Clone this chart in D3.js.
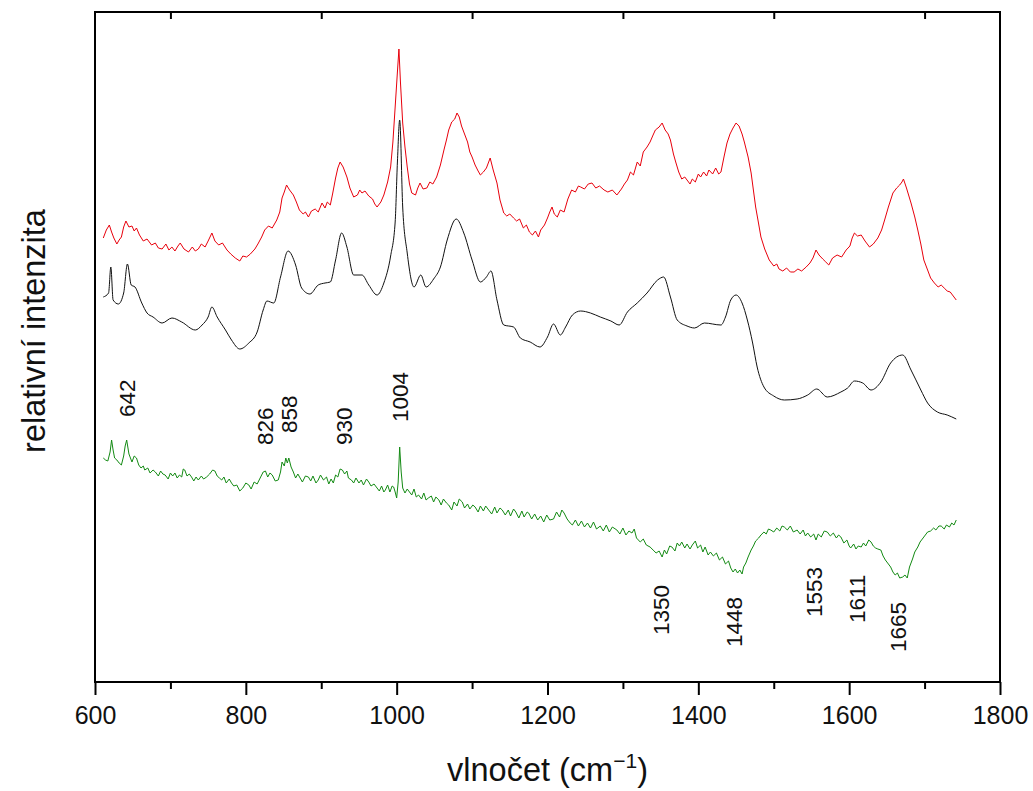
<!DOCTYPE html>
<html>
<head>
<meta charset="utf-8">
<script src="https://cdn.jsdelivr.net/npm/d3@7"></script>
<style>
  body { margin: 0; background: #fff; }
  svg { display: block; font-family: Arial, "Liberation Sans", sans-serif; }
</style>
</head>
<body>
<div id="chart"></div>
<script>
// wavenumber (cm-1), relative intensity (arbitrary units)
var blackSpec = [
  [611, 385], [618, 389], [621, 415], [624, 382], [631, 378], [638, 389], [643, 418], [648, 397],
  [653, 395], [662, 379], [669, 369], [677, 365], [689, 359], [702, 364], [715, 360], [733, 352],
  [742, 357], [750, 365], [755, 375], [762, 365], [773, 352], [781, 342], [792, 333], [804, 339],
  [815, 350], [823, 372], [828, 381], [837, 379], [846, 405], [856, 431], [866, 417], [874, 394],
  [885, 388], [896, 397], [905, 399], [912, 400], [919, 422], [927, 449], [934, 435], [943, 407],
  [954, 407], [963, 397], [974, 387], [983, 399], [992, 426], [998, 460], [1001, 520], [1004, 562],
  [1008, 475], [1014, 429], [1023, 395], [1032, 407], [1039, 395], [1049, 403], [1058, 415], [1067, 442],
  [1079, 463], [1089, 449], [1100, 422], [1111, 400], [1119, 405], [1125, 411], [1133, 382], [1142, 357],
  [1155, 355], [1164, 344], [1177, 340], [1190, 335], [1200, 345], [1208, 358], [1217, 347], [1224, 355],
  [1233, 367], [1244, 371], [1257, 369], [1270, 365], [1284, 361], [1295, 357], [1306, 370], [1319, 379],
  [1332, 389], [1346, 402], [1354, 405], [1363, 385], [1372, 362], [1385, 356], [1395, 354], [1408, 359],
  [1430, 357], [1436, 365], [1443, 382], [1450, 387], [1458, 379], [1465, 362], [1472, 339], [1478, 315],
  [1487, 295], [1500, 286], [1514, 282], [1531, 283], [1545, 287], [1557, 293], [1571, 285], [1589, 290],
  [1598, 294], [1607, 301], [1618, 299], [1629, 292], [1642, 300], [1655, 319], [1671, 327], [1682, 312],
  [1695, 292], [1704, 279], [1717, 270], [1730, 267], [1742, 263]
]

var redSpec = [
  [611, 444], [615, 452], [619, 457], [622, 450], [625, 444], [629, 438], [632, 442], [635, 445],
  [638, 455], [641, 461], [645, 455], [649, 456], [652, 451], [655, 454], [659, 447], [664, 441],
  [669, 443], [675, 437], [680, 439], [684, 434], [689, 433], [694, 438], [698, 432], [702, 435],
  [706, 431], [710, 436], [713, 439], [718, 433], [724, 430], [729, 435], [733, 431], [737, 433],
  [741, 438], [746, 435], [750, 441], [755, 449], [759, 441], [764, 437], [769, 439], [775, 432],
  [780, 428], [786, 424], [792, 421], [796, 426], [801, 425], [806, 428], [812, 433], [816, 438],
  [821, 445], [825, 452], [830, 456], [835, 454], [841, 462], [845, 470], [848, 484], [851, 490],
  [854, 497], [858, 492], [863, 487], [867, 480], [871, 472], [876, 468], [879, 470], [883, 465],
  [887, 471], [892, 473], [896, 470], [901, 479], [905, 474], [908, 480], [912, 477], [915, 488],
  [919, 504], [922, 514], [925, 520], [929, 515], [934, 505], [938, 494], [943, 485], [948, 487],
  [951, 492], [954, 489], [958, 491], [963, 486], [968, 483], [971, 478], [974, 475], [979, 480],
  [983, 487], [988, 500], [992, 515], [995, 540], [998, 575], [1001, 610], [1003, 633], [1005, 600],
  [1008, 559], [1011, 535], [1014, 515], [1017, 498], [1020, 489], [1025, 487], [1028, 494], [1031, 499],
  [1035, 493], [1040, 494], [1044, 500], [1048, 498], [1053, 505], [1058, 517], [1063, 533], [1066, 542],
  [1069, 552], [1073, 560], [1077, 563], [1080, 569], [1083, 565], [1086, 556], [1089, 550], [1094, 540],
  [1097, 530], [1100, 525], [1104, 517], [1108, 511], [1111, 507], [1115, 510], [1119, 514], [1124, 524],
  [1128, 512], [1133, 499], [1137, 482], [1142, 469], [1146, 466], [1150, 468], [1155, 464], [1159, 461],
  [1163, 463], [1168, 454], [1172, 457], [1176, 450], [1180, 447], [1184, 451], [1188, 445], [1191, 452],
  [1196, 457], [1200, 464], [1203, 470], [1206, 475], [1209, 468], [1213, 465], [1217, 472], [1222, 470],
  [1227, 483], [1232, 492], [1237, 490], [1241, 496], [1244, 495], [1249, 493], [1254, 498], [1259, 499],
  [1264, 494], [1269, 496], [1275, 492], [1280, 490], [1286, 492], [1292, 487], [1298, 493], [1302, 498],
  [1306, 502], [1310, 510], [1314, 507], [1319, 520], [1323, 516], [1327, 530], [1332, 535], [1336, 540],
  [1340, 547], [1343, 552], [1348, 555], [1352, 559], [1356, 552], [1360, 548], [1363, 542], [1367, 528],
  [1370, 520], [1374, 510], [1378, 503], [1382, 505], [1385, 502], [1389, 498], [1392, 503], [1396, 500],
  [1400, 508], [1403, 505], [1407, 510], [1411, 506], [1414, 512], [1419, 508], [1423, 514], [1427, 508],
  [1430, 510], [1434, 525], [1438, 539], [1442, 548], [1446, 554], [1450, 559], [1454, 556], [1458, 548],
  [1461, 540], [1466, 525], [1470, 509], [1473, 492], [1476, 475], [1480, 458], [1483, 445], [1488, 433],
  [1494, 422], [1500, 416], [1504, 418], [1507, 413], [1512, 411], [1517, 414], [1522, 410], [1527, 410],
  [1532, 413], [1537, 411], [1543, 415], [1548, 419], [1552, 424], [1556, 432], [1560, 427], [1565, 423],
  [1569, 420], [1573, 417], [1578, 424], [1584, 427], [1590, 425], [1596, 432], [1601, 436], [1604, 444],
  [1607, 449], [1611, 446], [1616, 447], [1621, 441], [1627, 435], [1632, 438], [1638, 444], [1643, 452],
  [1647, 462], [1652, 475], [1658, 489], [1663, 494], [1667, 497], [1670, 500], [1672, 503], [1676, 494],
  [1682, 479], [1687, 465], [1691, 452], [1695, 438], [1699, 422], [1704, 412], [1708, 404], [1713, 399],
  [1718, 395], [1722, 397], [1726, 394], [1730, 391], [1734, 390], [1738, 386], [1742, 382]
]

var greenSpec = [
  [611, 224], [614, 222], [617, 221], [620, 230], [622, 242], [624, 232], [626, 224], [629, 222],
  [632, 219], [635, 217], [638, 226], [640, 236], [642, 242], [645, 228], [649, 220], [652, 226],
  [655, 224], [658, 217], [661, 214], [664, 216], [666, 212], [670, 214], [673, 209], [677, 212],
  [680, 210], [684, 206], [687, 211], [690, 208], [693, 207], [697, 203], [700, 209], [703, 206],
  [706, 209], [709, 204], [712, 207], [715, 205], [717, 213], [719, 212], [722, 206], [725, 208],
  [728, 205], [731, 201], [734, 205], [737, 202], [741, 206], [744, 203], [748, 205], [752, 208],
  [756, 212], [759, 211], [762, 206], [765, 204], [768, 202], [771, 205], [774, 199], [778, 203],
  [781, 199], [784, 196], [788, 197], [792, 191], [796, 194], [800, 199], [804, 197], [807, 193],
  [811, 200], [815, 198], [819, 204], [823, 210], [826, 211], [829, 205], [832, 209], [835, 207],
  [839, 201], [843, 202], [846, 210], [848, 220], [851, 216], [853, 224], [855, 219], [857, 224],
  [860, 215], [863, 210], [866, 204], [869, 208], [872, 204], [875, 200], [879, 206], [883, 205],
  [886, 201], [889, 206], [893, 199], [896, 202], [899, 207], [903, 202], [907, 205], [910, 198],
  [913, 203], [916, 199], [919, 207], [922, 205], [925, 213], [928, 212], [931, 208], [934, 211],
  [936, 204], [940, 202], [943, 199], [946, 204], [950, 199], [953, 202], [956, 197], [960, 203],
  [963, 200], [966, 196], [970, 198], [974, 194], [977, 191], [980, 196], [983, 190], [985, 192],
  [988, 197], [991, 190], [994, 196], [996, 195], [998, 190], [1000, 184], [1002, 200], [1004, 235],
  [1006, 210], [1008, 194], [1011, 189], [1014, 193], [1016, 191], [1020, 187], [1023, 193], [1026, 185],
  [1029, 187], [1033, 183], [1036, 189], [1039, 182], [1042, 184], [1046, 186], [1049, 180], [1052, 185],
  [1056, 182], [1059, 177], [1062, 183], [1066, 179], [1069, 177], [1073, 172], [1076, 180], [1080, 176],
  [1083, 183], [1087, 180], [1090, 174], [1094, 178], [1097, 173], [1101, 177], [1104, 175], [1108, 170],
  [1111, 176], [1115, 171], [1118, 176], [1122, 172], [1126, 168], [1130, 175], [1133, 169], [1137, 174],
  [1140, 172], [1144, 167], [1148, 172], [1151, 166], [1155, 173], [1158, 170], [1162, 164], [1166, 171],
  [1169, 165], [1173, 170], [1175, 169], [1179, 163], [1183, 168], [1187, 162], [1191, 166], [1195, 160],
  [1199, 167], [1203, 162], [1208, 163], [1212, 170], [1216, 165], [1219, 172], [1222, 169], [1226, 163],
  [1230, 159], [1233, 157], [1237, 162], [1241, 156], [1245, 161], [1249, 155], [1253, 159], [1257, 154],
  [1261, 160], [1265, 153], [1270, 156], [1274, 151], [1278, 157], [1282, 150], [1286, 155], [1292, 152],
  [1296, 148], [1300, 154], [1304, 147], [1308, 151], [1312, 149], [1315, 153], [1318, 144], [1323, 140],
  [1327, 143], [1331, 137], [1336, 135], [1340, 132], [1344, 129], [1348, 131], [1352, 125], [1355, 132],
  [1358, 128], [1362, 136], [1365, 135], [1369, 131], [1372, 139], [1375, 136], [1378, 140], [1382, 134],
  [1385, 138], [1389, 133], [1392, 137], [1396, 141], [1399, 134], [1403, 137], [1406, 130], [1409, 135],
  [1413, 127], [1416, 130], [1420, 126], [1424, 129], [1428, 122], [1432, 125], [1436, 118], [1440, 121],
  [1443, 114], [1446, 110], [1449, 113], [1452, 109], [1455, 112], [1458, 108], [1460, 115], [1463, 119],
  [1466, 125], [1470, 132], [1473, 136], [1476, 141], [1480, 144], [1483, 147], [1487, 150], [1490, 148],
  [1493, 153], [1496, 152], [1500, 150], [1504, 154], [1508, 151], [1511, 156], [1514, 155], [1518, 152],
  [1522, 156], [1526, 150], [1531, 152], [1535, 148], [1539, 152], [1542, 146], [1545, 149], [1549, 145],
  [1553, 148], [1556, 142], [1559, 148], [1563, 145], [1567, 151], [1571, 150], [1575, 146], [1579, 149],
  [1583, 144], [1586, 147], [1589, 145], [1593, 139], [1597, 142], [1600, 136], [1602, 134], [1606, 138],
  [1609, 133], [1612, 136], [1616, 135], [1619, 139], [1622, 136], [1626, 142], [1629, 140], [1632, 136],
  [1635, 134], [1638, 133], [1642, 132], [1645, 126], [1648, 122], [1651, 119], [1655, 115], [1658, 110],
  [1661, 107], [1664, 109], [1667, 104], [1671, 105], [1674, 107], [1677, 104], [1680, 115], [1684, 123],
  [1687, 130], [1691, 135], [1694, 140], [1697, 143], [1700, 146], [1704, 150], [1708, 151], [1712, 154],
  [1715, 152], [1719, 156], [1722, 156], [1726, 153], [1729, 157], [1733, 155], [1736, 159], [1739, 157],
  [1742, 162]
]

// peak annotations: wavenumber and the intensity level where the label starts
var peakLabels = [642, 826, 858, 930, 1004, 1350, 1448, 1553, 1611, 1665]
var peakLabelLevel = [265, 237, 249, 237, 260, 47, 35, 65, 59, 30]

var majorTicks = [600, 800, 1000, 1200, 1400, 1600, 1800]
var minorTicks = [700, 900, 1100, 1300, 1500, 1700]

var width = 1033
var height = 791
var margin = {left: 95, right: 33, top: 12, bottom: 109}

var x = d3.scaleLinear().domain([600, 1800]).range([margin.left, width - margin.right])
var y = d3.scaleLinear().domain([0, 670]).range([height - margin.bottom, margin.top])

var svg = d3.select('#chart').append('svg')
  .attr('width', width)
  .attr('height', height)

var series = [
  {data: redSpec, color: '#e8000b', curve: d3.curveLinear},
  {data: blackSpec, color: '#111', curve: d3.curveMonotoneX},
  {data: greenSpec, color: '#138a13', curve: d3.curveLinear}
]

svg.selectAll('path.spec')
  .data(series)
  .join('path')
  .attr('class', 'spec')
  .attr('d', d => d3.line().x(p => x(p[0])).y(p => y(p[1])).curve(d.curve)(d.data))
  .attr('fill', 'none')
  .attr('stroke', d => d.color)
  .attr('stroke-width', 1)
  .attr('stroke-linejoin', 'round')

// frame
svg.append('rect')
  .attr('x', x(600)).attr('y', y(670))
  .attr('width', x(1800) - x(600)).attr('height', y(0) - y(670))
  .attr('fill', 'none').attr('stroke', '#000').attr('stroke-width', 2)

// bottom axis: major + minor ticks outward
var xAxis = svg.append('g')
  .attr('transform', 'translate(0,' + y(0) + ')')
  .call(d3.axisBottom(x).tickValues(majorTicks).tickSize(13).tickSizeOuter(0).tickPadding(11).tickFormat(d3.format('d')))
xAxis.select('.domain').remove()
xAxis.selectAll('line').attr('stroke-width', 2)
xAxis.selectAll('text').attr('font-size', 25).attr('fill', '#111').style('font-family', 'Arial, "Liberation Sans", sans-serif')

var xMinor = svg.append('g')
  .attr('transform', 'translate(0,' + y(0) + ')')
  .call(d3.axisBottom(x).tickValues(minorTicks).tickSize(7).tickFormat(''))
xMinor.select('.domain').remove()
xMinor.selectAll('line').attr('stroke-width', 2)

// top axis: ticks pointing inward
var xTop = svg.append('g')
  .attr('transform', 'translate(0,' + y(670) + ')')
  .call(d3.axisBottom(x).tickValues(minorTicks).tickSize(7).tickFormat(''))
xTop.select('.domain').remove()
xTop.selectAll('line').attr('stroke-width', 2)

// peak labels
svg.selectAll('text.peak')
  .data(peakLabels)
  .join('text')
  .attr('class', 'peak')
  .attr('transform', (d, i) => 'translate(' + x(d) + ',' + y(peakLabelLevel[i]) + ') rotate(-90)')
  .attr('dy', '0.35em')
  .attr('text-anchor', 'start')
  .attr('font-size', 22.5)
  .attr('fill', '#111')
  .text(d => d)

// axis titles
var xt = svg.append('text')
  .attr('x', (x(600) + x(1800)) / 2)
  .attr('y', 781)
  .attr('text-anchor', 'middle')
  .attr('font-size', 32.5)
  .attr('fill', '#111')
xt.append('tspan').text('vlnočet (cm')
xt.append('tspan').attr('dy', -13).attr('font-size', 21).text('\u22121')
xt.append('tspan').attr('dy', 13).text(')')

svg.append('text')
  .attr('transform', 'translate(45,331) rotate(-90)')
  .attr('text-anchor', 'middle')
  .attr('font-size', 32.5)
  .attr('fill', '#111')
  .text('relativní intenzita')
</script>
</body>
</html>
